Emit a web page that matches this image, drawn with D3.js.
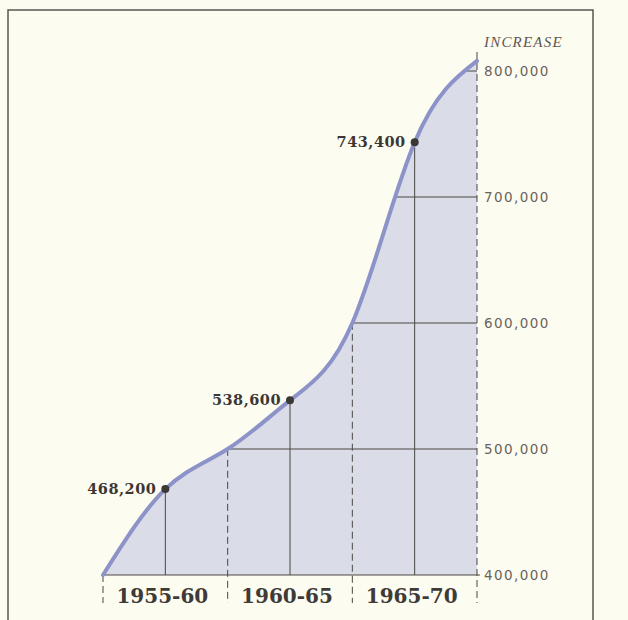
<!DOCTYPE html>
<html>
<head>
<meta charset="utf-8">
<script src="https://cdn.jsdelivr.net/npm/d3@7/dist/d3.min.js"></script>
<style>
  html, body { margin: 0; padding: 0; background: #fdfcf0; }
  svg { display: block; }
</style>
</head>
<body>
<svg id="chart" width="628" height="620"></svg>
<script>
// Five-year periods and the increase recorded in each
const periods = ["1955-60", "1960-65", "1965-70"];
const increases = [468200, 538600, 743400];

// Smoothed growth curve: position in period units (0 = start of 1955) and value
const curvePos = [0, 0.5, 1, 1.5, 2, 2.5, 3];
const curveVal = [400000, 468200, 500000, 538600, 600000, 743400, 808000];

// Axis ticks
const tickValues = [400000, 500000, 600000, 700000, 800000];
const tickLabels = ["400,000", "500,000", "600,000", "700,000", "800,000"];
const axisTitle = "INCREASE";

const svg = d3.select("#chart");
const ink = "#4a4643";

const x = d3.scaleLinear().domain([0, periods.length]).range([103, 477]);
const y = d3.scaleLinear().domain([400000, 800000]).range([575, 71]);

// frame
svg.append("path")
  .attr("d", "M8,620V10H593V620")
  .attr("fill", "none").attr("stroke", "#5a5654").attr("stroke-width", 1.5);

const pts = curvePos.map((p, i) => [x(p), y(curveVal[i])]);
const smooth = d3.curveNatural;
const line = d3.line().curve(smooth);
const area = d3.area().curve(smooth).y0(y(400000));

// shaded area
svg.append("path")
  .attr("d", area.x(d => d[0]).y1(d => d[1])(pts))
  .attr("fill", "#dadce7");

// hidden path used to locate crossings on the curve
const probe = svg.append("path").attr("d", line(pts)).attr("fill", "none").attr("stroke", "none");
const pnode = probe.node();
const total = pnode.getTotalLength();
const samples = d3.range(0, total + 0.5, 0.5).map(l => pnode.getPointAtLength(l));
const xAtY = yy => samples.find(s => s.y <= yy).x;
const yAtX = xx => samples.find(s => s.x >= xx).y;

const g = svg.append("g").attr("stroke", ink).attr("fill", "none");

// horizontal grid from curve to right axis
tickValues.slice(1).forEach(v => {
  g.append("line")
    .attr("x1", xAtY(y(v))).attr("x2", x(periods.length))
    .attr("y1", y(v)).attr("y2", y(v)).attr("stroke-width", 1);
});

// baseline
g.append("line").attr("x1", x(0)).attr("x2", x(periods.length) + 3)
  .attr("y1", y(400000)).attr("y2", y(400000)).attr("stroke-width", 1.2);

// period dividers (dashed), from the curve down below the baseline
d3.range(0, periods.length + 1).forEach(i => {
  let top;
  if (i === 0) top = y(400000);
  else if (i === periods.length) top = 52;
  else top = yAtX(x(i));
  g.append("line")
    .attr("x1", x(i)).attr("x2", x(i))
    .attr("y1", top).attr("y2", 603)
    .attr("stroke-width", 1)
    .attr("stroke-dasharray", "7,4");
});

// drop lines from the period values
increases.forEach((v, i) => {
  g.append("line")
    .attr("x1", x(i + 0.5)).attr("x2", x(i + 0.5))
    .attr("y1", y(v)).attr("y2", y(400000)).attr("stroke-width", 1);
});

// curve stroke
svg.append("path")
  .attr("d", line(pts))
  .attr("fill", "none")
  .attr("stroke", "#8c93c9")
  .attr("stroke-width", 4)
  .attr("stroke-linecap", "round");

// value dots and labels
increases.forEach((v, i) => {
  svg.append("circle")
    .attr("cx", x(i + 0.5)).attr("cy", y(v)).attr("r", 4)
    .attr("fill", "#3b3837");
  svg.append("text")
    .attr("x", x(i + 0.5) - 9).attr("y", y(v) + 5)
    .attr("text-anchor", "end")
    .attr("font-family", "DejaVu Serif")
    .attr("font-weight", "bold")
    .attr("font-size", 14.5)
    .attr("letter-spacing", 0.5)
    .attr("fill", "#3b3734")
    .text(d3.format(",")(v));
});

// right axis labels
tickValues.forEach((v, i) => {
  svg.append("text")
    .attr("x", x(periods.length) + 7).attr("y", y(v) + 5)
    .attr("font-family", "DejaVu Sans")
    .attr("font-size", 13.5)
    .attr("letter-spacing", 1.4)
    .attr("fill", "#6a625c")
    .text(tickLabels[i]);
});

svg.append("text")
  .attr("x", x(periods.length) + 7).attr("y", 47)
  .attr("font-family", "Liberation Serif")
  .attr("font-style", "italic")
  .attr("font-size", 15)
  .attr("letter-spacing", 1.2)
  .attr("fill", "#5e5853")
  .text(axisTitle);

// period labels
periods.forEach((p, i) => {
  svg.append("text")
    .attr("x", x(i + 0.5) - 3).attr("y", 603)
    .attr("text-anchor", "middle")
    .attr("font-family", "DejaVu Serif")
    .attr("font-weight", "bold")
    .attr("font-size", 20)
    .attr("fill", "#3e3a37")
    .text(p);
});
</script>
</body>
</html>
